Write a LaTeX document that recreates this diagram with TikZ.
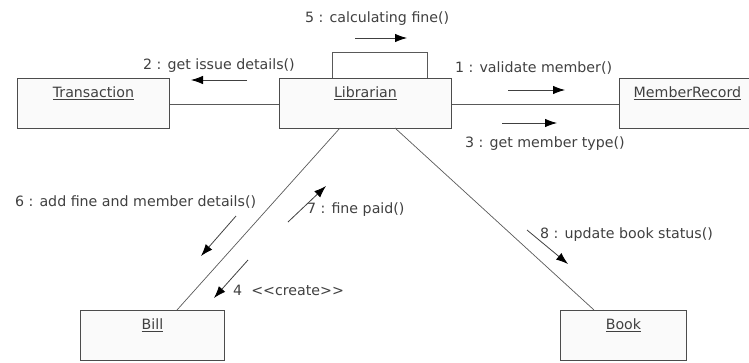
\documentclass[tikz,border=0pt]{standalone}
\usepackage{fontspec}
\setmainfont{DejaVu Sans}
\usetikzlibrary{arrows.meta}
\begin{document}
\begin{tikzpicture}[x=1pt,y=-1pt,
  obj/.style={draw=black!70, fill=black!2, line width=0.9pt, minimum width=#1, minimum height=50pt, inner sep=0pt, anchor=north west},
  lbl/.style={text=black!75, font=\fontsize{14.2}{16}\selectfont, inner sep=0pt, anchor=west},
  objtitle/.style={lbl, anchor=center},
  link/.style={draw=black!65, line width=0.7pt},
  msg/.style={draw=black!75, line width=0.8pt, -{Latex[length=12pt,width=8.5pt,fill=black,color=black]}}]
\useasboundingbox (0,0) rectangle (749,362);
% objects
\node[obj=152pt] (tr) at (17,78) {};
\node[objtitle] at ([yshift=-15pt]tr.north) {\underline{Transaction}};
\node[obj=172pt] (lib) at (279,78) {};
\node[objtitle] at ([yshift=-15pt]lib.north) {\underline{Librarian}};
\node[obj=136pt] (mr) at (619,78) {};
\node[objtitle] at ([yshift=-15pt]mr.north) {\underline{MemberRecord}};
\node[obj=144pt] (bill) at (80,310) {};
\node[objtitle] at ([yshift=-15pt]bill.north) {\underline{Bill}};
\node[obj=126pt] (book) at (560,310) {};
\node[objtitle] at ([yshift=-15pt]book.north) {\underline{Book}};
% links
\draw[link] (tr.east |- 0,104) -- (lib.west |- 0,104);
\draw[link] (lib.east |- 0,104) -- (mr.west |- 0,104);
\draw[link] (332,78) -- (332,52) -- (427,52) -- (427,78);
\coordinate (lb1) at (340,128);
\coordinate (lb2) at (395,128);
\draw[link] (lb1) -- (bill.north -| 177,0);
\draw[link] (lb2) -- (book.north -| 594,0);
% message arrows
\coordinate (m5a) at (355,38); \coordinate (m5b) at (407,38);
\draw[msg] (m5a) -- (m5b);
\node[lbl] (t5) at (305,19) {5 : calculating fine()};
\coordinate (m2a) at (247,80); \coordinate (m2b) at (191,80);
\draw[msg] (m2a) -- (m2b);
\node[lbl] (t2) at (143,66) {2 : get issue details()};
\coordinate (m1a) at (508,90); \coordinate (m1b) at (565,90);
\draw[msg] (m1a) -- (m1b);
\node[lbl] (t1) at (455,68) {1 : validate member()};
\coordinate (m3a) at (502,123); \coordinate (m3b) at (557,123);
\draw[msg] (m3a) -- (m3b);
\node[lbl] (t3) at (465,144) {3 : get member type()};
\coordinate (m6a) at (236,216); \coordinate (m6b) at (201,256);
\draw[msg] (m6a) -- (m6b);
\node[lbl] (t6) at (15,202) {6 : add fine and member details()};
\coordinate (m7a) at (288,222); \coordinate (m7b) at (326,186);
\draw[msg] (m7a) -- (m7b);
\node[lbl] (t7) at (307,210) {7 : fine paid()};
\coordinate (m4a) at (248,260); \coordinate (m4b) at (214,298);
\draw[msg] (m4a) -- (m4b);
\node[lbl] (t4) at (233,290) {4 \ <{}<create>{}>};
\coordinate (m8a) at (527,230); \coordinate (m8b) at (568,264);
\draw[msg] (m8a) -- (m8b);
\node[lbl] (t8) at (540,235) {8 : update book status()};
\end{tikzpicture}
\end{document}
